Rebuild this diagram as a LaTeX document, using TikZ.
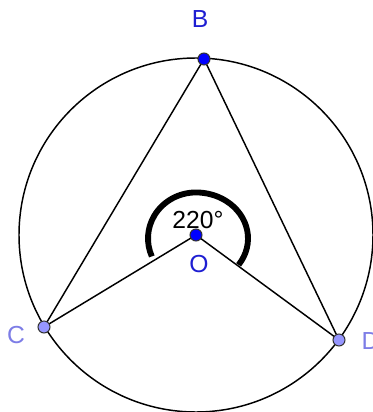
\documentclass[tikz,border=0pt]{standalone}
\usepackage{fontspec}
\setmainfont{Liberation Sans}
\usetikzlibrary{calc}
\begin{document}
\begin{tikzpicture}[x=0.75pt,y=0.75pt,
    dot/.style={circle,draw=black!80,line width=0.8pt,inner sep=0pt,minimum size=9pt},
    lbl/.style={font=\fontsize{18.5}{20}\selectfont}]
  \useasboundingbox (0,0) rectangle (373,412);
  \definecolor{ptblue}{RGB}{0,0,255}
  \definecolor{ptlav}{RGB}{150,150,255}
  \definecolor{lblblue}{RGB}{30,30,210}
  \definecolor{lbllav}{RGB}{125,125,230}
  % centre and points on the circle
  \coordinate (O) at (196,177);
  \coordinate (B) at (204,353);
  \coordinate (C) at (44,85);
  \coordinate (D) at (339,72);
  \draw[line width=1.1pt] (O) circle (177);
  \draw[line width=1.1pt] (C)--(B)--(D);
  \draw[line width=1.1pt] (C)--(O)--(D);
  % reflex angle mark
  \draw[line width=4.4pt] ($(O)+(-35:52)$) arc (-35:90:52 and 46)
    arc (90:203:48 and 46);
  \node[dot,fill=ptblue] (Odot) at (O) {};
  \node[dot,fill=ptblue] (Bdot) at (B) {};
  \node[dot,fill=ptlav] (Cdot) at (C) {};
  \node[dot,fill=ptlav] (Ddot) at (D) {};
  \node[lbl,lblblue] (Blabel) at (200,393) {B};
  \node[lbl,lblblue] (Olabel) at (199,148) {O};
  \node[lbl,lbllav] (Clabel) at (16,77) {C};
  \node[lbl,lbllav,anchor=west] (Dlabel) at (357,71) {D};
  \node[lbl] (angle) at (198,192) {220\textdegree};
\end{tikzpicture}
\end{document}
